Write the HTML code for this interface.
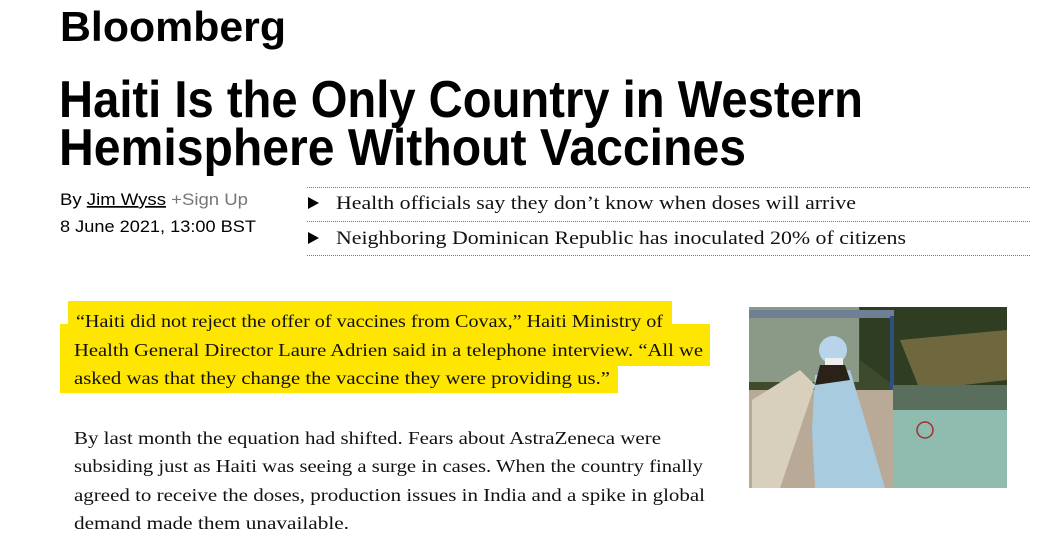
<!DOCTYPE html>
<html><head><meta charset="utf-8"><style>
html,body{margin:0;padding:0;background:#fff;}
svg{display:block}
.sans{font-family:"Liberation Sans",Arial,sans-serif}
.serif{font-family:"Liberation Serif","Times New Roman",serif}
</style></head><body>
<svg width="1057" height="551" viewBox="0 0 1057 551" xmlns="http://www.w3.org/2000/svg">
<rect width="1057" height="551" fill="#fff"/>
<text class="sans" x="60" y="41" font-size="42" font-weight="bold" textLength="226" lengthAdjust="spacingAndGlyphs" fill="#000">Bloomberg</text>
<g class="sans" font-weight="bold" fill="#000" font-size="52">
<text x="59" y="117" textLength="804" lengthAdjust="spacingAndGlyphs">Haiti Is the Only Country in Western</text>
<text x="59" y="165" textLength="687" lengthAdjust="spacingAndGlyphs">Hemisphere Without Vaccines</text>
</g>
<g class="sans" font-size="17" fill="#000">
<text x="60" y="205" textLength="188" lengthAdjust="spacingAndGlyphs">By <tspan text-decoration="underline">Jim Wyss</tspan> <tspan fill="#777">+Sign Up</tspan></text>
<text x="60" y="232" textLength="196" lengthAdjust="spacingAndGlyphs">8 June 2021, 13:00 BST</text>
</g>
<g stroke="#777" stroke-width="1" stroke-dasharray="1 1">
<line x1="307" y1="187.5" x2="1030" y2="187.5"/>
<line x1="307" y1="221.5" x2="1030" y2="221.5"/>
<line x1="307" y1="255.5" x2="1030" y2="255.5"/>
</g>
<g class="serif" font-size="19" fill="#111">
<polygon points="308,197 319,203 308,209" fill="#000"/>
<text x="336" y="209" textLength="520" lengthAdjust="spacingAndGlyphs">Health officials say they don’t know when doses will arrive</text>
<polygon points="308,232 319,238 308,244" fill="#000"/>
<text x="336" y="244" textLength="570" lengthAdjust="spacingAndGlyphs">Neighboring Dominican Republic has inoculated 20% of citizens</text>
</g>
<g fill="#ffe600">
<rect x="68" y="301" width="604" height="30"/>
<rect x="60" y="324" width="650" height="42"/>
<rect x="60" y="365" width="558" height="28"/>
</g>
<g class="serif" font-size="18" fill="#111">
<text x="76" y="327" textLength="587" lengthAdjust="spacingAndGlyphs">“Haiti did not reject the offer of vaccines from Covax,” Haiti Ministry of</text>
<text x="74" y="356" textLength="629" lengthAdjust="spacingAndGlyphs">Health General Director Laure Adrien said in a telephone interview. “All we</text>
<text x="74" y="384" textLength="536" lengthAdjust="spacingAndGlyphs">asked was that they change the vaccine they were providing us.”</text>
</g>
<g class="serif" font-size="18" fill="#111">
<text x="74" y="444" textLength="587" lengthAdjust="spacingAndGlyphs">By last month the equation had shifted. Fears about AstraZeneca were</text>
<text x="74" y="472" textLength="629" lengthAdjust="spacingAndGlyphs">subsiding just as Haiti was seeing a surge in cases. When the country finally</text>
<text x="74" y="501" textLength="631" lengthAdjust="spacingAndGlyphs">agreed to receive the doses, production issues in India and a spike in global</text>
<text x="74" y="529" textLength="275" lengthAdjust="spacingAndGlyphs">demand made them unavailable.</text>
</g>
<g>
<rect x="749" y="307" width="258" height="181" fill="#3d4a2c"/>
<rect x="749" y="307" width="110" height="75" fill="#8a9a86"/>
<path d="M860 307 L1007 307 L1007 395 L900 390 L860 360 Z" fill="#2f3d22"/>
<path d="M900 340 L1007 330 L1007 380 L920 390 Z" fill="#8a7a4a" opacity="0.7"/>
<rect x="749" y="310" width="145" height="8" fill="#6e7f96"/>
<rect x="890" y="316" width="4" height="172" fill="#2e4f80"/>
<rect x="893" y="385" width="114" height="103" fill="#8fbcae"/>
<rect x="893" y="385" width="114" height="25" fill="#5a6e5e"/>
<circle cx="925" cy="430" r="8" fill="none" stroke="#a03030" stroke-width="1.5"/>
<rect x="749" y="390" width="144" height="98" fill="#b9aa98"/>
<path d="M752 400 L800 370 L815 385 L780 488 L752 488 Z" fill="#d8cfbc"/>
<path d="M815 375 L850 370 L865 420 L885 488 L815 488 L812 430 Z" fill="#a8cbe0"/>
<circle cx="833" cy="350" r="14" fill="#b8d4ea"/>
<rect x="825" y="358" width="18" height="10" fill="#eee"/>
<path d="M820 365 L845 365 L850 380 L815 385 Z" fill="#2a2218"/>
</g>
</svg>
</body></html>
